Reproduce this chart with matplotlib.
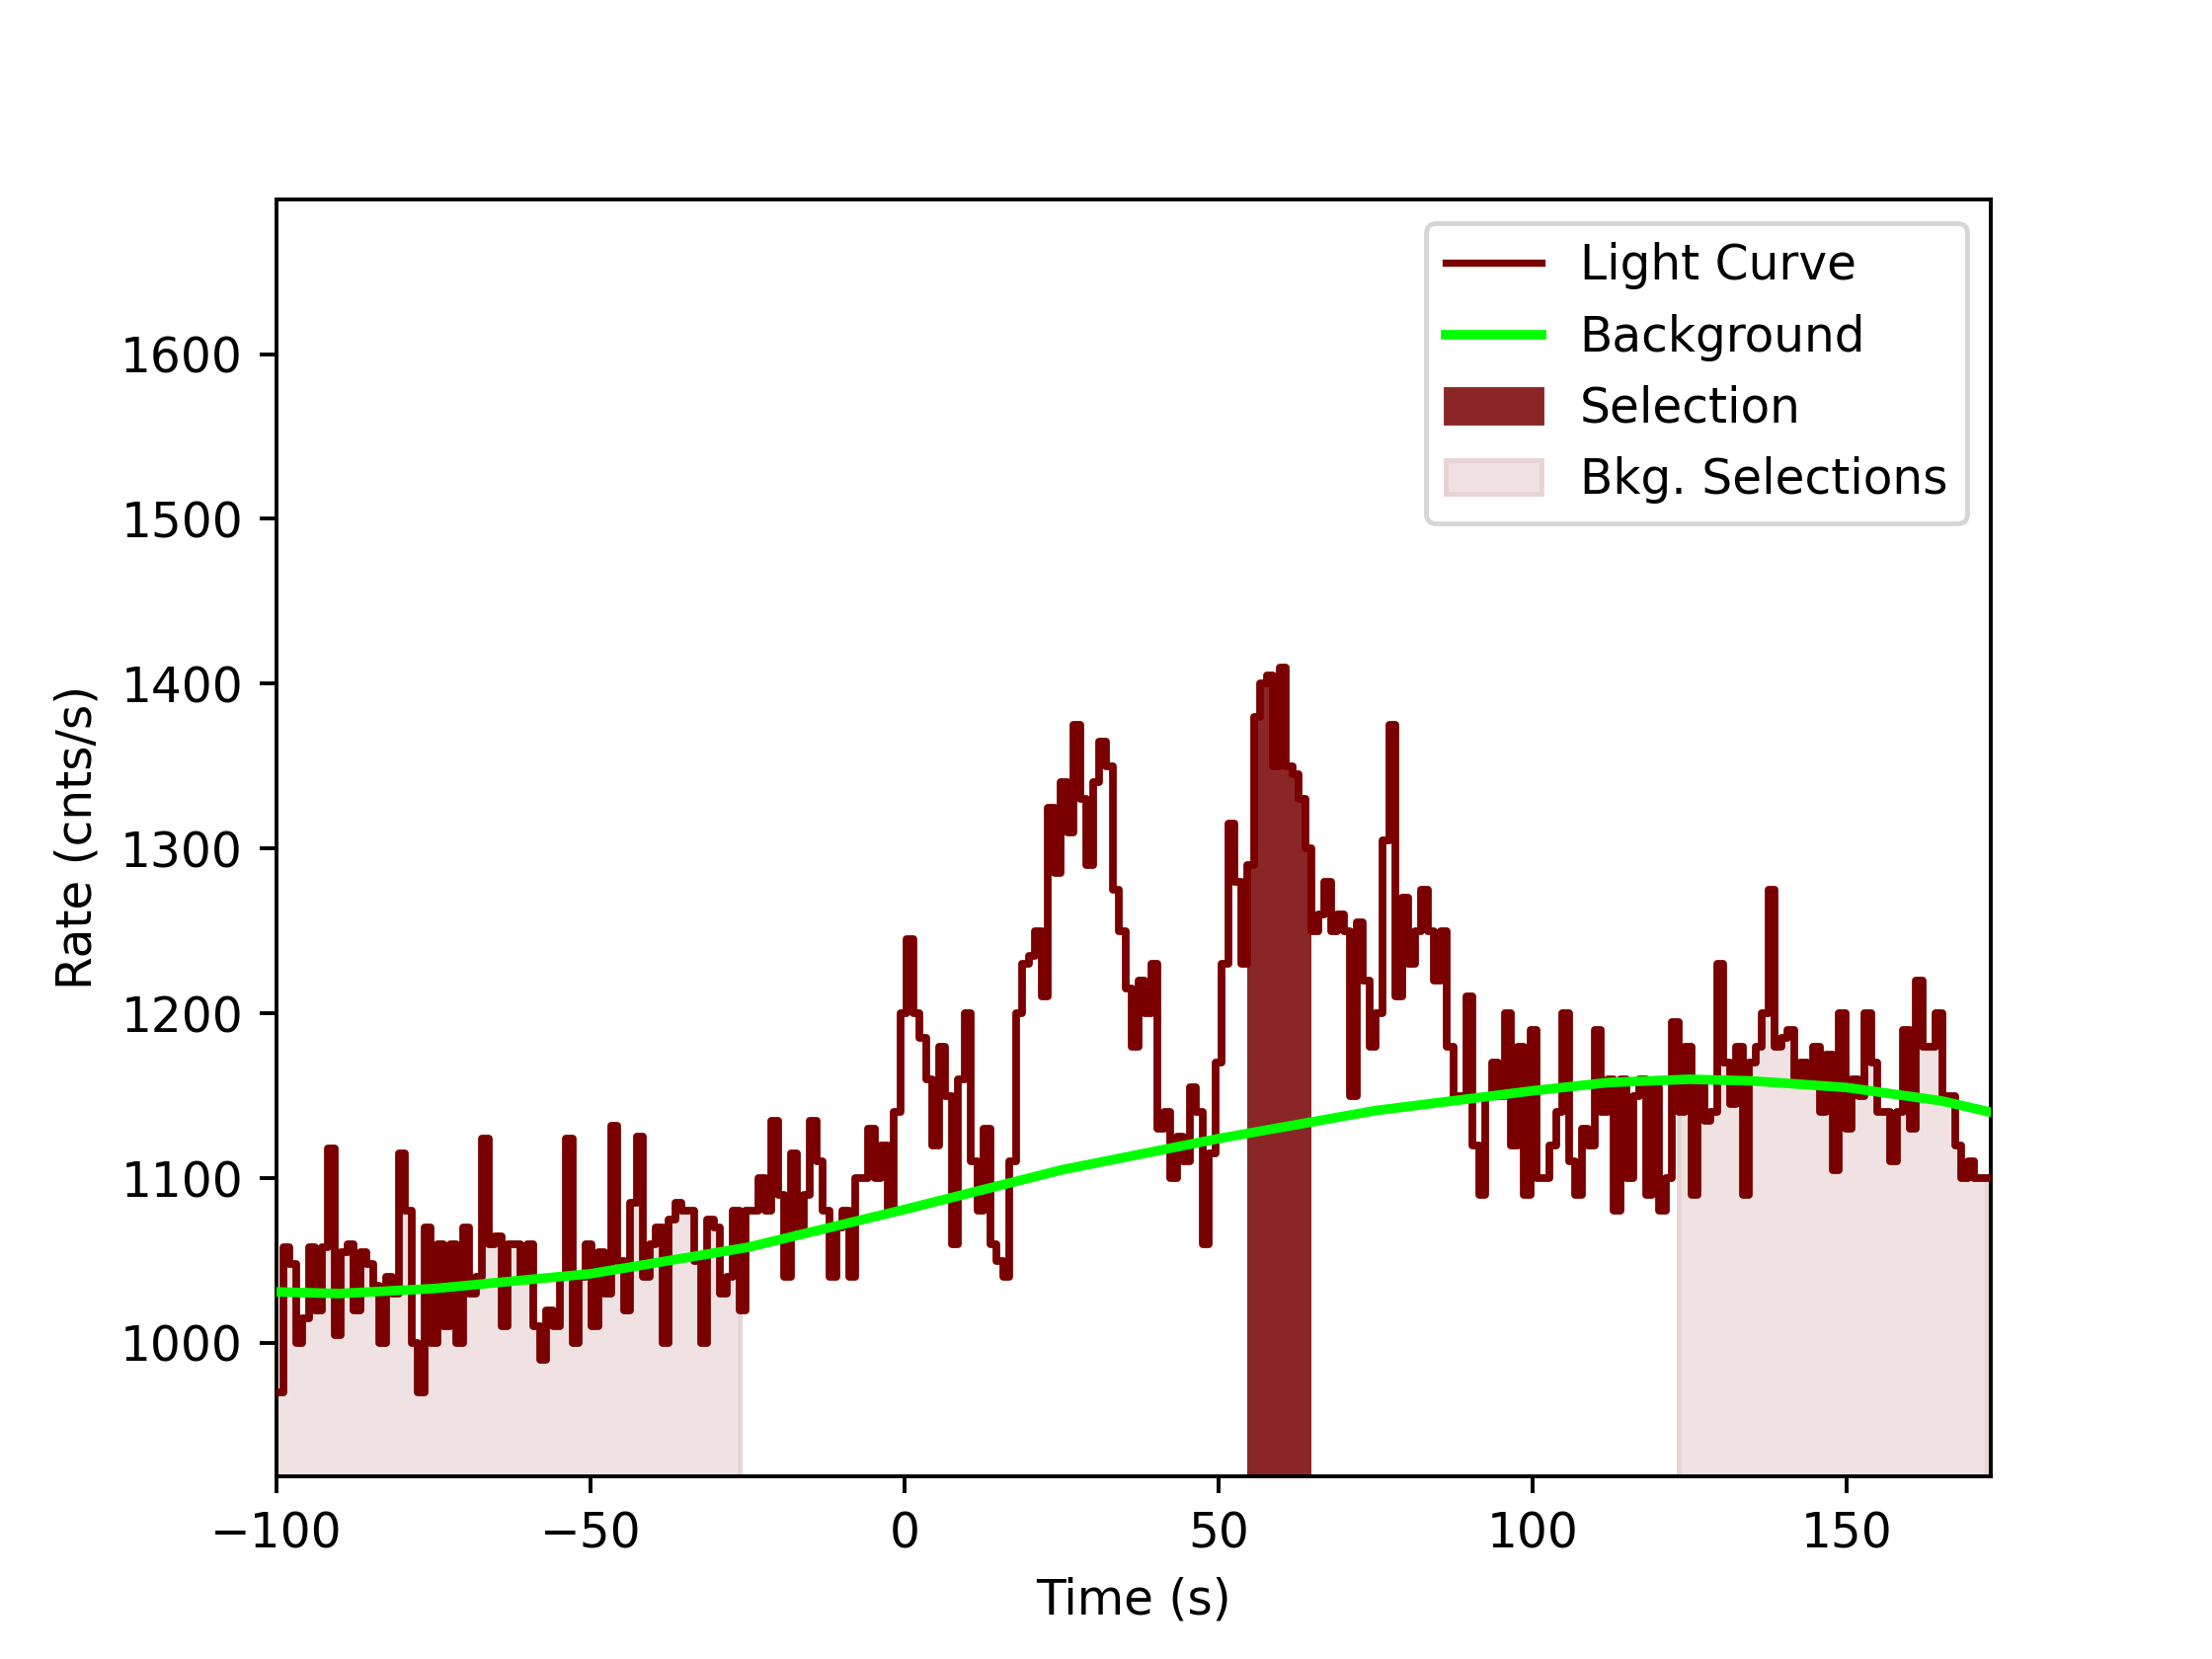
import matplotlib

matplotlib.use("Agg")
import matplotlib.pyplot as plt
import numpy as np

BIN = 1.024
T0 = -100.0

rates = [
    970, 1058, 1048, 1000, 1015, 1058, 1020, 1058, 1118, 1005,
    1055, 1060, 1020, 1055, 1048, 1035, 1000, 1040, 1030, 1115,
    1080, 1000, 970, 1070, 1000, 1060, 1010, 1060, 1000, 1070,
    1030, 1040, 1124, 1060, 1065, 1010, 1060, 1060, 1040, 1060,
    1010, 990, 1020, 1010, 1040, 1124, 1000, 1040, 1060, 1010,
    1055, 1030, 1132, 1050, 1020, 1085, 1125, 1040, 1060, 1070,
    1000, 1075, 1085, 1080, 1080, 1050, 1000, 1075, 1070, 1030,
    1040, 1080, 1020, 1080, 1080, 1100, 1080, 1135, 1090, 1040,
    1115, 1070, 1090, 1135, 1110, 1080, 1040, 1070, 1080, 1040,
    1100, 1100, 1130, 1100, 1120, 1080, 1140, 1200, 1245, 1200,
    1185, 1160, 1120, 1180, 1150, 1060, 1160, 1200, 1110, 1080,
    1130, 1060, 1050, 1040, 1110, 1200, 1230, 1235, 1250, 1210,
    1325, 1285, 1340, 1310, 1375, 1330, 1290, 1340, 1365, 1350,
    1275, 1250, 1215, 1180, 1220, 1200, 1230, 1130, 1140, 1100,
    1125, 1110, 1155, 1140, 1060, 1115, 1170, 1230, 1315, 1280,
    1230, 1290, 1380, 1400, 1405, 1350, 1410, 1350, 1345, 1330,
    1300, 1250, 1260, 1280, 1250, 1260, 1250, 1150, 1255, 1220,
    1180, 1200, 1305, 1375, 1210, 1270, 1230, 1250, 1275, 1250,
    1220, 1250, 1180, 1150, 1150, 1210, 1120, 1090, 1150, 1170,
    1150, 1200, 1120, 1180, 1090, 1190, 1100, 1100, 1120, 1140,
    1200, 1110, 1090, 1130, 1120, 1190, 1140, 1160, 1080, 1160,
    1100, 1150, 1160, 1090, 1155, 1080, 1100, 1195, 1140, 1180,
    1090, 1160, 1135, 1140, 1230, 1170, 1145, 1180, 1090, 1170,
    1180, 1200, 1275, 1180, 1185, 1190, 1160, 1170, 1160, 1180,
    1140, 1175, 1105, 1200, 1130, 1160, 1150, 1200, 1170, 1140,
    1140, 1110, 1140, 1190, 1130, 1220, 1180, 1180, 1200, 1150,
    1150, 1120, 1100, 1110, 1100, 1100,
]

bkg_t = [-100, -90, -75, -50, -25, 0, 25, 50, 75, 100, 112, 125, 135, 150, 165, 173]
bkg_rate = [1031, 1030, 1033, 1042, 1058, 1081, 1105, 1124, 1141, 1153, 1158, 1160, 1159, 1155, 1147, 1140]

src_sel = (54.5, 65.0)
bkg_sels = [(-100.0, -25.5), (123.0, 172.6)]

rates = np.array(rates, dtype=float)
edges = T0 + BIN * np.arange(len(rates) + 1)
y_step = np.append(rates, rates[-1])
ymin = 919

fig, ax = plt.subplots(figsize=(6.4, 4.8))

for lo, hi in bkg_sels:
    m = (edges >= lo - 1e-6) & (edges <= hi + 1e-6)
    ax.fill_between(edges[m], ymin, y_step[m], step="post", color="#f0e2e2",
                    edgecolor="#e8d4d4", zorder=1)
m = (edges >= src_sel[0]) & (edges <= src_sel[1])
ax.fill_between(edges[m], ymin, y_step[m], step="post", color="#8b2626", lw=0, zorder=2)

ax.step(edges, y_step, where="post", color="#7a0000", lw=1.6, zorder=3)
ax.plot(bkg_t, bkg_rate, color="#00ff00", lw=2, zorder=4)

ax.plot([], [], color="#7a0000", lw=1.5, label="Light Curve")
ax.plot([], [], color="#00ff00", lw=2, label="Background")
ax.fill_between([], [], color="#8b2626", label="Selection")
ax.fill_between([], [], color="#f0e2e2", edgecolor="#e8d4d4", label="Bkg. Selections")

ax.set_xlim(-100, 173)
ax.set_ylim(ymin, 1694)
ax.set_xlabel("Time (s)")
ax.set_ylabel("Rate (cnts/s)")
ax.legend(loc="upper right")
fig.savefig("out.png", dpi=350)
